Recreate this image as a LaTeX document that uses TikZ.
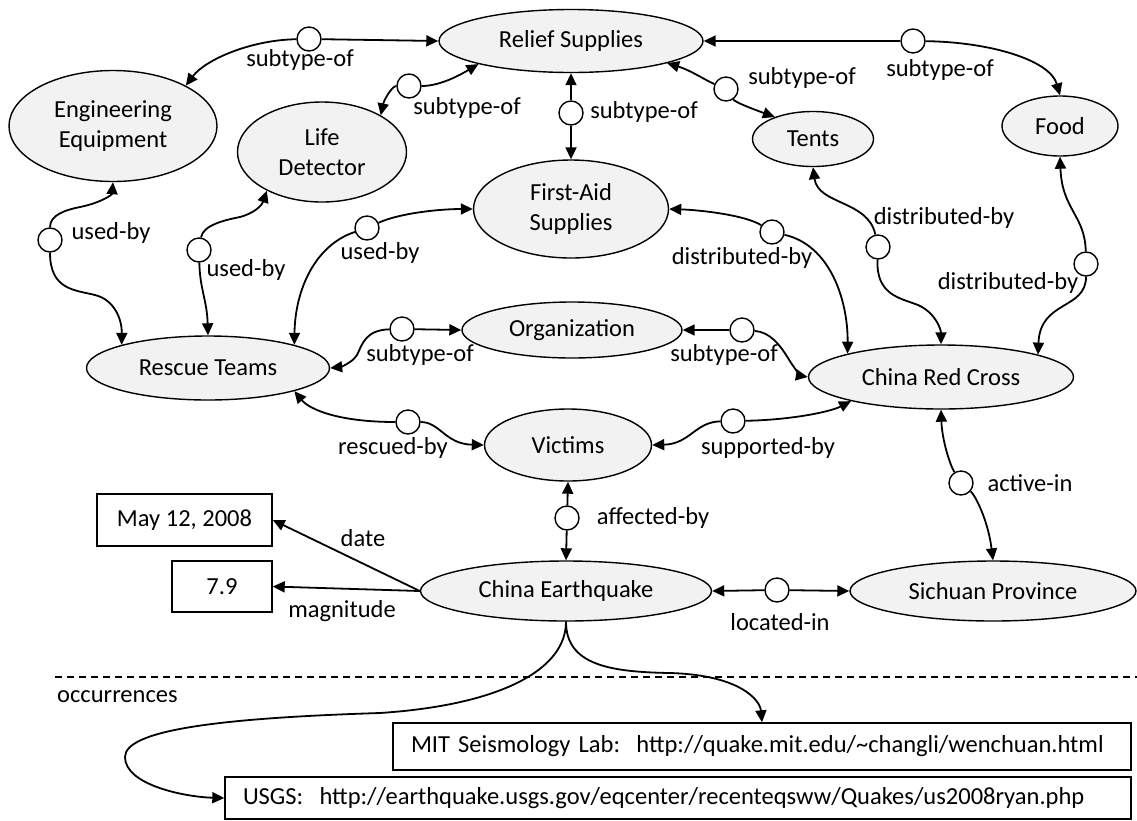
\documentclass[tikz,border=0pt]{standalone}
\usepackage{fontspec}
\setmainfont{Carlito}
\usepackage{tikz}
\usetikzlibrary{shapes.geometric,arrows.meta}
\definecolor{topicgray}{HTML}{F2F2F2}
\frenchspacing

\begin{document}
\begin{tikzpicture}[x=1pt,y=-1pt,font=\fontsize{24.5}{30}\selectfont,
  topic/.style={ellipse,draw,line width=1.4pt,fill=topicgray,inner sep=0pt,align=center},
  assoc/.style={circle,draw,line width=1.4pt,fill=white,minimum size=24pt,inner sep=0pt},
  occbox/.style={rectangle,draw,line width=1.4pt,inner sep=0pt},
  role/.style={inner sep=0pt},
  link/.style={line width=1.8pt,-{Triangle[length=12pt,width=11pt]}}]
\useasboundingbox (0,0) rectangle (1137,820);

% topics
\node[topic,minimum width=264pt,minimum height=63pt] (relief) at (571,41) {Relief Supplies};
\node[topic,minimum width=208pt,minimum height=111pt] (engineering) at (113,126) {Engineering\\Equipment};
\node[topic,minimum width=169pt,minimum height=100pt] (detector) at (322,152) {Life\\Detector};
\node[topic,minimum width=195pt,minimum height=98pt] (firstaid) at (571,209) {First-Aid\\Supplies};
\node[topic,minimum width=121pt,minimum height=55pt] (tents) at (813,139) {Tents};
\node[topic,minimum width=116pt,minimum height=60pt] (food) at (1060,126) {Food};
\node[topic,minimum width=243pt,minimum height=64pt] (rescue) at (208,368) {Rescue Teams};
\node[topic,minimum width=220pt,minimum height=56pt] (organization) at (572,330) {Organization};
\node[topic,minimum width=167pt,minimum height=72pt] (victims) at (568,445) {Victims};
\node[topic,minimum width=265pt,minimum height=64pt] (redcross) at (941,377) {China Red Cross};
\node[topic,minimum width=291pt,minimum height=60pt] (quake) at (566,591) {China Earthquake};
\node[topic,minimum width=286pt,minimum height=60pt] (sichuan) at (993,591) {Sichuan Province};

% occurrences and values
\node[occbox,minimum width=175pt,minimum height=52pt] (date) at (184.5,520) {May 12, 2008};
\node[occbox,minimum width=100pt,minimum height=51pt] (magnitude) at (222,586.5) {7.9\hspace{6pt}};
\node[occbox,text width=702pt,inner xsep=18pt,minimum height=47pt,align=left] (mit) at (762,746.5)
  {\mbox{MIT Seismology Lab:~~http://quake.mit.edu/\textasciitilde changli/wenchuan.html}};
\node[occbox,text width=870pt,inner xsep=18pt,minimum height=42pt,align=left] (usgs) at (678,798)
  {\mbox{USGS:~~http://earthquake.usgs.gov/eqcenter/recenteqsww/Quakes/us2008ryan.php}};

% association circles
\foreach \n/\x/\y in {a1/309/39, a2/409/86, a3/571/113, a4/726/89, a5/913/41,
  a6/50/240, a7/199/250, a8/367/228, a9/772/232, a10/878/247, a11/1086/264,
  a12/402/329, a13/742/330, a14/408/422, a15/733/421, a16/567/518,
  a17/961/483, a18/777/590}
  \node[assoc] (\n) at (\x,\y) {};

% role labels
\foreach \n/\x/\y/\t in {l1/300/60/subtype-of, l2/467/108/subtype-of, l3/644/112/subtype-of,
  l4/802/78/subtype-of, l5/940/70/subtype-of, l6/111/233/used-by, l7/246/270/used-by,
  l8/380/253/used-by, l9/742/258/distributed-by, l10/944/218/distributed-by,
  l11/1008/283/distributed-by, l12/420/355/subtype-of, l13/724/355/subtype-of,
  l14/393/448/rescued-by, l15/768/448/supported-by, l16/653/518/affected-by,
  l17/1030/483/active-in, l18/780/622/located-in, l19/363/538/date, l20/342/611/magnitude}
  \node[role] (\n) at (\x,\y) {\t};

% relief supplies
\draw[link] (a1) -- (relief.west);
\draw[link] (a1) .. controls (250,40) and (205,60) .. (engineering.29);
\draw[link] (a2) .. controls (440,86) and (460,75) .. (relief.194);
\draw[link] (a2) .. controls (392,86) and (384,100) .. (detector.32);
\draw[link] (a3) -- (relief.south);
\draw[link] (a3) -- (firstaid.north);
\draw[link] (a4) .. controls (705,80) and (690,70) .. (relief.347);
\draw[link] (a4) .. controls (735,102) and (750,108) .. (tents.150);
\draw[link] (a5) -- (relief.east);
\draw[link] (a5) .. controls (990,42) and (1050,60) .. (food.north);

% used-by
\draw[link] (a6) .. controls (50,215) and (65,210) .. (80,207) .. controls (100,203) and (112,195) .. (engineering.south);
\draw[link] (a6) .. controls (50,290) and (75,290) .. (95,295) .. controls (115,300) and (122,320) .. (rescue.165);
\draw[link] (a7) .. controls (203,225) and (225,220) .. (240,217) .. controls (255,213) and (262,205) .. (detector.215);
\draw[link] (a7) .. controls (200,290) and (207,300) .. (rescue.north);
\draw[link] (a8) .. controls (400,213) and (440,209) .. (firstaid.west);
\draw[link] (a8) .. controls (315,245) and (295,290) .. (rescue.15);

% distributed-by
\draw[link] (a9) .. controls (745,215) and (700,210) .. (firstaid.east);
\draw[link] (a9) .. controls (830,245) and (848,300) .. (redcross.166);
\draw[link] (a10) .. controls (868,200) and (818,205) .. (tents.south);
\draw[link] (a10) .. controls (876,295) and (900,298) .. (918,305) .. controls (936,313) and (941,330) .. (redcross.north);
\draw[link] (a11) .. controls (1085,215) and (1062,210) .. (food.south);
\draw[link] (a11) .. controls (1086,310) and (1040,300) .. (redcross.13);

% organization
\draw[link] (a12) -- (organization.west);
\draw[link] (a12) .. controls (365,330) and (362,345) .. (357,355) .. controls (352,363) and (340,367) .. (rescue.east);
\draw[link] (a13) -- (organization.east);
\draw[link] (a13) .. controls (770,332) and (780,345) .. (788,358) .. controls (795,370) and (802,376) .. (redcross.west);

% victims
\draw[link] (a14) .. controls (340,422) and (310,410) .. (rescue.345);
\draw[link] (a14) .. controls (440,422) and (445,444) .. (victims.west);
\draw[link] (a15) .. controls (695,422) and (690,444) .. (victims.east);
\draw[link] (a15) .. controls (790,420) and (830,412) .. (redcross.195);
\draw[link] (a16) -- (victims.south);
\draw[link] (a16) -- (quake.north);

% red cross, earthquake
\draw[link] (a17) .. controls (950,465) and (942,440) .. (redcross.south);
\draw[link] (a17) .. controls (975,495) and (988,520) .. (sichuan.north);
\draw[link] (a18) -- (quake.east);
\draw[link] (a18) -- (sichuan.west);
\draw[link] (quake.west) -- (date.east);
\draw[link] (quake.west) -- (magnitude.east);

% occurrences
\draw[line width=1.2pt,dash pattern=on 7pt off 5pt] (55,677) -- (1137,677);
\node[role,anchor=west] (occ) at (57,697) {occurrences};
\draw[link] (quake.south) .. controls (566,665) and (610,672) .. (670,673) .. controls (740,675) and (760,700) .. (mit.north);
\draw[link] (quake.south) .. controls (566,670) and (500,705) .. (380,713) .. controls (220,718) and (125,730) .. (125,757) .. controls (125,785) and (185,797) .. (usgs.west);
\end{tikzpicture}
\end{document}
